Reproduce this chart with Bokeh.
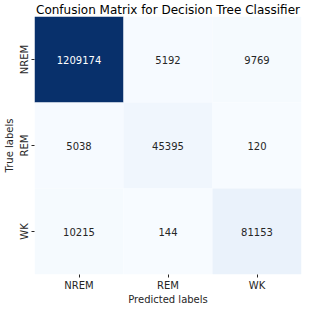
from bokeh.plotting import figure
from bokeh.models import ColumnDataSource, LinearColorMapper
from bokeh.transform import transform
from bokeh.palettes import Blues9
from bokeh.core.properties import value
from bokeh.embed import file_html
from bokeh.resources import INLINE

# ---- data ----
class_labels = ["NREM", "REM", "WK"]
row_nrem = [1209174, 5192, 9769]
row_rem = [5038, 45395, 120]
row_wk = [10215, 144, 81153]
rows = [row_nrem, row_rem, row_wk]

true_col, pred_col, vals = [], [], []
for t, r in zip(class_labels, rows):
    for pl, v in zip(class_labels, r):
        true_col.append(t)
        pred_col.append(pl)
        vals.append(v)

vmin, vmax = min(vals), max(vals)


# 256-step Blues palette (light -> dark), interpolated from Blues9
def hex2rgb(h):
    h = h.lstrip("#")
    return [int(h[i:i + 2], 16) for i in (0, 2, 4)]


anchors = [hex2rgb(c) for c in reversed(Blues9)]
palette = []
n = 256
for i in range(n):
    pos = i / (n - 1) * (len(anchors) - 1)
    k = min(int(pos), len(anchors) - 2)
    f = pos - k
    c = [round(anchors[k][j] + (anchors[k + 1][j] - anchors[k][j]) * f) for j in range(3)]
    palette.append("#%02x%02x%02x" % tuple(c))

mapper = LinearColorMapper(palette=palette, low=vmin, high=vmax)
txt_colors = ["white" if (v - vmin) / (vmax - vmin) > 0.5 else "#262626" for v in vals]

src = ColumnDataSource(dict(true=true_col, pred=pred_col, value=vals,
                            label=[str(v) for v in vals], tc=txt_colors))

p = figure(width=305, height=307, x_range=class_labels,
           y_range=list(reversed(class_labels)),
           output_backend="svg", toolbar_location=None,
           title="Confusion Matrix for Decision Tree Classifier",
           min_border_left=26, min_border_right=4, min_border_top=0,
           min_border_bottom=0)

p.rect(x="pred", y="true", width=1, height=1, source=src,
       fill_color=transform("value", mapper), line_color=None)
p.text(x="pred", y="true", text="label", source=src, text_color="tc",
       text_align="center", text_baseline="middle",
       text_font=value("DejaVu Sans"), text_font_size="10px")

font = "DejaVu Sans"
p.title.text_font = font
p.title.text_font_size = "12px"
p.title.text_font_style = "normal"
p.title.text_color = "#000000"
p.title.align = "center"
p.title.standoff = 0

p.xaxis.axis_label = "Predicted labels"
p.yaxis.axis_label = "True labels"
for ax in (p.xaxis, p.yaxis):
    ax.axis_label_text_font = font
    ax.axis_label_text_font_size = "10px"
    ax.axis_label_text_font_style = "normal"
    ax.axis_label_text_color = "#262626"
    ax.major_label_text_font = font
    ax.major_label_text_font_size = "10px"
    ax.major_label_text_color = "#262626"
    ax.axis_line_color = None
    ax.major_tick_line_color = "#262626"
    ax.major_tick_out = 3
    ax.major_tick_in = 0
    ax.major_label_standoff = 3
    ax.axis_label_standoff = 1
p.xaxis.major_label_standoff = 2
p.xaxis.axis_label_standoff = 0
p.yaxis.major_label_orientation = "vertical"
p.yaxis.major_label_standoff = 2

p.grid.grid_line_color = None
p.outline_line_color = None
p.background_fill_color = "white"

open("out.html", "w").write(file_html(p, INLINE))
